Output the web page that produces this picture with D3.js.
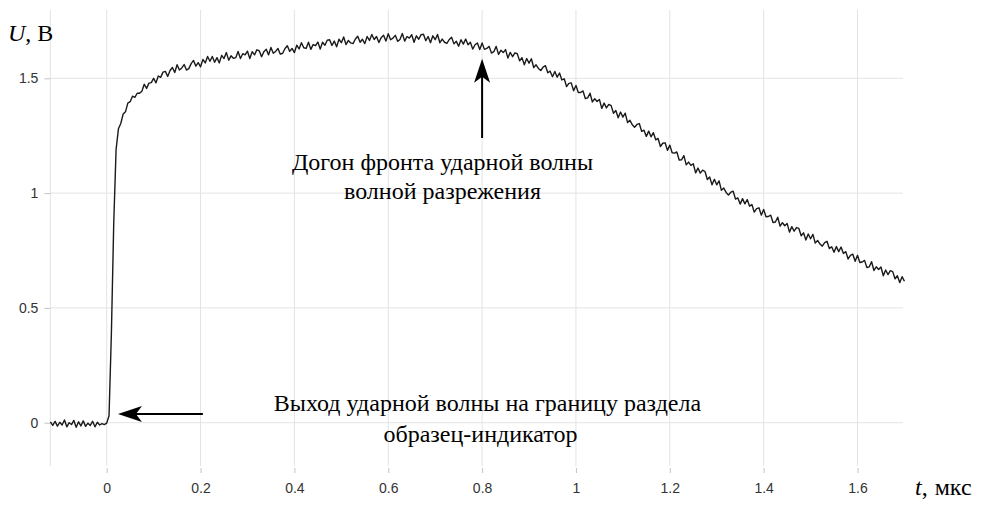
<!DOCTYPE html>
<html>
<head>
<meta charset="utf-8">
<script src="https://cdn.jsdelivr.net/npm/d3@7"></script>
<style>
  html, body { margin: 0; padding: 0; background: #fff; }
  svg { display: block; }
</style>
</head>
<body>
<svg width="982" height="505"></svg>
<script>
// signal sampled every 0.005 us starting at -0.12 us
const tStart = -0.12;
const dt = 0.005;

const baseline = [
  0.004, -0.012, 0.006, -0.015, 0.002, -0.010, 0.012, -0.018, 0.000, -0.008,
  0.010, -0.020, 0.004, -0.014, 0.008, -0.016, -0.002, -0.012, 0.006, -0.018,
  0.002, -0.010, -0.004, -0.008, -0.002
];
const front = [0.03, 0.39, 0.87, 1.19];
const rise = [
  1.280, 1.303, 1.344, 1.354, 1.392, 1.398, 1.422, 1.417, 1.435, 1.435,
  1.444, 1.474, 1.456, 1.479, 1.481, 1.500, 1.480, 1.510, 1.504, 1.527,
  1.530, 1.508, 1.534, 1.547, 1.525, 1.559, 1.536, 1.545, 1.560, 1.536,
  1.542, 1.564, 1.578, 1.553, 1.568, 1.550, 1.582, 1.567, 1.595, 1.574,
  1.595, 1.570, 1.590, 1.567, 1.600, 1.586, 1.612, 1.579, 1.598, 1.587,
  1.590, 1.617, 1.586, 1.607, 1.602, 1.618, 1.586, 1.616, 1.602, 1.624
];
const plateau = [
  1.620, 1.594, 1.616, 1.627, 1.602, 1.634, 1.609, 1.617, 1.630, 1.605,
  1.609, 1.630, 1.642, 1.617, 1.630, 1.612, 1.644, 1.628, 1.655, 1.633,
  1.630, 1.657, 1.626, 1.647, 1.642, 1.658, 1.627, 1.657, 1.644, 1.666,
  1.668, 1.643, 1.662, 1.637, 1.670, 1.655, 1.680, 1.647, 1.665, 1.654,
  1.651, 1.671, 1.683, 1.657, 1.670, 1.651, 1.682, 1.665, 1.691, 1.669,
  1.682, 1.656, 1.677, 1.688, 1.662, 1.694, 1.668, 1.675, 1.687, 1.661,
  1.669, 1.695, 1.662, 1.682, 1.675, 1.690, 1.657, 1.685, 1.670, 1.690,
  1.692, 1.664, 1.682, 1.655, 1.685, 1.668, 1.691, 1.655, 1.671, 1.657,
  1.652, 1.669, 1.679, 1.650, 1.661, 1.640, 1.668, 1.649, 1.671, 1.646,
  1.657, 1.627, 1.646, 1.654, 1.625, 1.654, 1.626, 1.630, 1.639, 1.610
];
const decay = [
  1.616, 1.639, 1.604, 1.622, 1.612, 1.625, 1.588, 1.613, 1.594, 1.611,
  1.607, 1.576, 1.590, 1.559, 1.586, 1.566, 1.585, 1.547, 1.559, 1.543,
  1.534, 1.549, 1.555, 1.524, 1.531, 1.507, 1.530, 1.505, 1.523, 1.493,
  1.498, 1.464, 1.478, 1.480, 1.446, 1.469, 1.438, 1.438, 1.445, 1.412,
  1.415, 1.435, 1.397, 1.411, 1.399, 1.408, 1.369, 1.392, 1.371, 1.386,
  1.381, 1.348, 1.360, 1.328, 1.353, 1.331, 1.348, 1.307, 1.317, 1.298,
  1.287, 1.299, 1.303, 1.269, 1.274, 1.247, 1.270, 1.245, 1.263, 1.232,
  1.238, 1.203, 1.217, 1.219, 1.186, 1.209, 1.176, 1.174, 1.179, 1.144,
  1.145, 1.163, 1.123, 1.135, 1.121, 1.128, 1.088, 1.109, 1.087, 1.100,
  1.094, 1.059, 1.070, 1.036, 1.060, 1.036, 1.053, 1.012, 1.022, 1.003,
  0.992, 1.004, 1.008, 0.974, 0.979, 0.952, 0.976, 0.953, 0.972, 0.943,
  0.950, 0.917, 0.932, 0.936, 0.904, 0.929, 0.897, 0.898, 0.904, 0.872,
  0.874, 0.895, 0.856, 0.871, 0.858, 0.868, 0.830, 0.854, 0.834, 0.850,
  0.846, 0.814, 0.827, 0.796, 0.822, 0.801, 0.820, 0.782, 0.794, 0.778,
  0.769, 0.784, 0.790, 0.759, 0.766, 0.742, 0.767, 0.745, 0.765, 0.737,
  0.745, 0.713, 0.729, 0.734, 0.703, 0.729, 0.698, 0.700, 0.707, 0.676,
  0.679, 0.701, 0.663, 0.679, 0.667, 0.678, 0.640, 0.665, 0.645, 0.662,
  0.658, 0.627, 0.640, 0.610, 0.636, 0.616
];

const xTicks = [0, 0.2, 0.4, 0.6, 0.8, 1, 1.2, 1.4, 1.6];
const yTicks = [0, 0.5, 1, 1.5];

const noteTop = ["Догон фронта ударной волны", "волной разрежения"];
const noteBottom = ["Выход ударной волны на границу раздела", "образец-индикатор"];

const signal = baseline.concat(front, rise, plateau, decay)
  .map((u, i) => ({ t: tStart + i * dt, u }));

const svg = d3.select("svg");

const x = d3.scaleLinear().domain([0, 1.6]).range([106.7, 857.5]);
const y = d3.scaleLinear().domain([0, 1.5]).range([422.7, 78.3]);

const plotLeft = x(tStart);
const plotRight = 903;
const plotTop = 10;
const plotBottom = 466;

// grid
const grid = svg.append("g").attr("stroke", "#e3e3e3").attr("stroke-width", 1);
grid.selectAll(".vx")
  .data([tStart].concat(xTicks))
  .enter()
  .append("line")
  .attr("x1", (d) => x(d))
  .attr("x2", (d) => x(d))
  .attr("y1", plotTop)
  .attr("y2", plotBottom);
grid.selectAll(".hy")
  .data(yTicks)
  .enter()
  .append("line")
  .attr("x1", plotLeft)
  .attr("x2", plotRight)
  .attr("y1", (d) => y(d))
  .attr("y2", (d) => y(d));

// axes
const fmt = d3.format("~g");
const xAxis = d3.axisBottom(x).tickValues(xTicks).tickFormat(fmt).tickSize(5).tickPadding(10);
const yAxis = d3.axisLeft(y).tickValues(yTicks).tickFormat(fmt).tickSize(6).tickPadding(6);

const gx = svg.append("g").attr("transform", `translate(0, 468)`).call(xAxis);
const gy = svg.append("g").attr("transform", `translate(${plotLeft}, 0)`).call(yAxis);

[gx, gy].forEach((g) => {
  g.select(".domain").remove();
  g.selectAll(".tick line").attr("stroke", "#c4c4c4");
  g.selectAll(".tick text")
    .attr("fill", "#333")
    .style("font-family", "Liberation Sans, Arial, sans-serif")
    .style("font-size", "14px");
});

// signal trace
const line = d3.line()
  .x((d) => x(d.t))
  .y((d) => y(d.u));

svg.append("path")
  .datum(signal)
  .attr("fill", "none")
  .attr("stroke", "#1a1a1a")
  .attr("stroke-width", 1.4)
  .attr("stroke-linejoin", "round")
  .attr("d", line);

// axis titles
const serif = "Liberation Serif, Times New Roman, serif";
const yTitle = svg.append("text")
  .attr("x", 8)
  .attr("y", 40.5)
  .style("font-family", serif)
  .style("font-size", "24px")
  .attr("fill", "#000");
yTitle.append("tspan").style("font-style", "italic").text("U");
yTitle.append("tspan").text(", В");

const xTitle = svg.append("text")
  .attr("x", 915)
  .attr("y", 495)
  .style("font-family", serif)
  .style("font-size", "24px")
  .attr("fill", "#000");
xTitle.append("tspan").style("font-style", "italic").text("t");
xTitle.append("tspan").text(",");
xTitle.append("tspan").attr("dx", 7).text("мкс");

// arrows
function arrowHead(tipX, tipY, angle) {
  svg.append("path")
    .attr("d", "M0,0 L-24,-8 L-18,0 L-24,8 Z")
    .attr("fill", "#000")
    .attr("transform", `translate(${tipX}, ${tipY}) rotate(${angle})`);
}

const upX = x(0.8);
svg.append("line")
  .attr("x1", upX).attr("x2", upX)
  .attr("y1", y(1.24)).attr("y2", y(1.55))
  .attr("stroke", "#000").attr("stroke-width", 2);
arrowHead(upX, y(1.585), -90);

svg.append("line")
  .attr("x1", x(0.205)).attr("x2", x(0.05))
  .attr("y1", y(0.038)).attr("y2", y(0.038))
  .attr("stroke", "#000").attr("stroke-width", 2);
arrowHead(x(0.024), y(0.038), 180);

// notes
function note(lines, centers, baseY, gap) {
  svg.append("g")
    .selectAll("text")
    .data(lines)
    .enter()
    .append("text")
    .attr("x", (d, i) => centers[i])
    .attr("y", (d, i) => baseY + i * gap)
    .attr("text-anchor", "middle")
    .style("font-family", serif)
    .style("font-size", "24px")
    .attr("fill", "#000")
    .text((d) => d);
}

note(noteTop, [442.5, 442.5], 169.5, 29);
note(noteBottom, [487.5, 480.5], 411, 31);
</script>
</body>
</html>
